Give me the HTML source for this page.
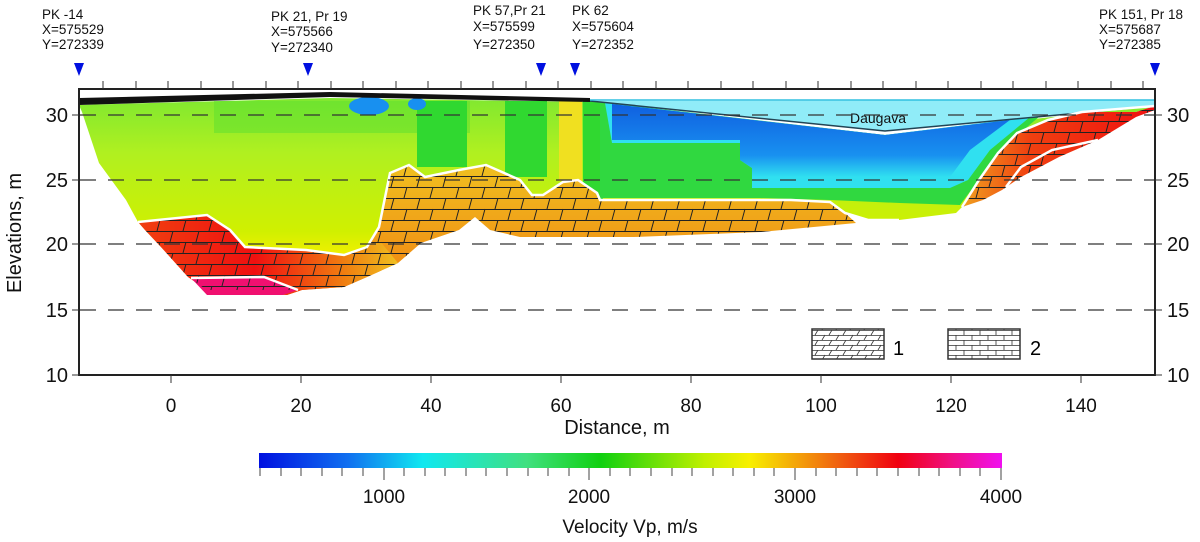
<!DOCTYPE html>
<html><head><meta charset="utf-8"><style>
body{margin:0;background:#fff;}
svg{display:block;font-family:"Liberation Sans",Arial,sans-serif;}
</style></head><body>
<svg width="1200" height="542" viewBox="0 0 1200 542" xmlns="http://www.w3.org/2000/svg">
<defs>
<linearGradient id="cb" x1="0" x2="1" y1="0" y2="0">
<stop offset="0" stop-color="#0010e0"/>
<stop offset="0.12" stop-color="#1070f0"/>
<stop offset="0.22" stop-color="#10e8f0"/>
<stop offset="0.36" stop-color="#40e080"/>
<stop offset="0.46" stop-color="#10d010"/>
<stop offset="0.6" stop-color="#c0f000"/>
<stop offset="0.66" stop-color="#f8f000"/>
<stop offset="0.78" stop-color="#f06010"/>
<stop offset="0.86" stop-color="#f00010"/>
<stop offset="0.93" stop-color="#f01080"/>
<stop offset="1" stop-color="#f010f0"/>
</linearGradient>
<linearGradient id="sed" x1="0" x2="0" y1="0" y2="1">
<stop offset="0" stop-color="#80e830"/>
<stop offset="0.35" stop-color="#b0f020"/>
<stop offset="0.85" stop-color="#d0f000"/>
<stop offset="1" stop-color="#f0f000"/>
</linearGradient>
<linearGradient id="redL" x1="0" x2="1" y1="0" y2="0">
<stop offset="0" stop-color="#f04010"/>
<stop offset="0.45" stop-color="#f01010"/>
<stop offset="0.8" stop-color="#f08010"/>
<stop offset="1" stop-color="#f0c020"/>
</linearGradient>
<linearGradient id="orM" x1="0" x2="0" y1="0" y2="1">
<stop offset="0" stop-color="#f0c020"/>
<stop offset="1" stop-color="#f08010"/>
</linearGradient>
<linearGradient id="redR" x1="0" x2="1" y1="0" y2="0">
<stop offset="0" stop-color="#f0a020"/>
<stop offset="0.35" stop-color="#f04010"/>
<stop offset="1" stop-color="#f01010"/>
</linearGradient>
<linearGradient id="blu" x1="0" x2="0" y1="0" y2="1">
<stop offset="0" stop-color="#1060e0"/>
<stop offset="0.7" stop-color="#1890f0"/>
<stop offset="1" stop-color="#30e0f0"/>
</linearGradient>
<pattern id="brick" width="26" height="22" patternUnits="userSpaceOnUse">
<path d="M0 0.5H26M0 11.5H26M4 0L1 11M17 11L14 22" stroke="#222" stroke-width="1" fill="none"/>
</pattern>
<pattern id="brick2" width="16" height="10" patternUnits="userSpaceOnUse">
<path d="M0 0.5H16M0 5.5H16M4 0V5M12 5V10" stroke="#333" stroke-width="0.8" fill="none"/>
</pattern>
<pattern id="slant" width="14" height="10" patternUnits="userSpaceOnUse">
<path d="M0 0.5H14M0 5.5H14M6 0L3 5M13 5L10 10" stroke="#333" stroke-width="0.8" fill="none"/>
</pattern>
</defs>

<path d="M79,105 L330,98 L590,102 L885,135 L1155,106 L1136,112 L1082,112 L1048,120 L1017,133 L998,153 L979,180 L962,207 L956,213 L899,220 L868,220 L845,213 L830,202 L791,200 L600,200 L597,193 L578,180 L563,182 L543,195 L532,195 L520,180 L486,165 L459,170 L425,177 L409,165 L390,173 L379,227 L367,247 L344,255 L306,250 L245,247 L230,230 L207,215 L138,222 L126,200 L99,163 L82,112 Z" fill="url(#sed)"/>
<rect x="214" y="101" width="256" height="32" fill="#60e030" opacity="0.55"/>
<rect x="417" y="101" width="50" height="66" fill="#30d830"/>
<rect x="505" y="101" width="42" height="76" fill="#30d830"/>
<rect x="559" y="101" width="23" height="80" fill="#f0e020"/>
<rect x="583" y="101" width="20" height="99" fill="#30d830"/>
<ellipse cx="369" cy="106" rx="20" ry="9" fill="#1890f0"/>
<ellipse cx="417" cy="104" rx="9" ry="6" fill="#1890f0"/>
<path d="M600,102 L885,135 L1040,116 L1000,150 L975,185 L960,205 L900,203 L830,200 L760,198 L600,198 Z" fill="#30d840"/>
<path d="M605,103 L885,135 L1030,117 L990,150 L968,180 L950,188 L752,188 L752,168 L740,160 L740,143 L612,143 Z" fill="#30e0f0"/>
<path d="M612,104 L885,135 L1010,120 L970,150 L950,177 L752,177 L752,168 L740,160 L740,140 L612,140 Z" fill="url(#blu)"/>
<path d="M590,101 L1155,100 L1155,106 L885,131 Z" fill="#90ecf8"/>
<path d="M590,101 L885,131 L1155,106" stroke="#245" stroke-width="1.5" fill="none"/>
<line x1="590" y1="100" x2="1155" y2="100" stroke="#30c0e0" stroke-width="1.5"/>
<text x="878" y="123" font-size="14" text-anchor="middle" fill="#111">Daugava</text>
<path d="M79,98 L330,92 L590,98 L590,102 L330,97 L79,105 Z" fill="#111"/>

<path d="M138,222 L207,215 L230,230 L245,247 L306,250 L344,255 L367,247 L379,227 L390,173 L409,165 L425,177 L459,170 L486,165 L520,180 L532,195 L543,195 L563,182 L578,180 L597,193 L600,200 L791,200 L830,202 L845,213 L856,223 L761,232 L634,237 L520,237 L490,230 L475,217 L459,230 L421,243 L398,263 L367,277 L344,287 L302,290 L287,295 L207,290 L188,277 L161,247 L145,230 Z" fill="url(#orM)"/>
<path d="M138,222 L207,215 L230,230 L245,247 L306,250 L344,255 L367,247 L379,240 L398,263 L367,277 L344,287 L302,290 L287,295 L207,290 L188,277 L161,247 L145,230 Z" fill="url(#redL)"/>
<path d="M191,278 L264,277 L298,290 L283,295 L207,295 Z" fill="#f01070"/>
<path d="M138,222 L207,215 L230,230 L245,247 L306,250 L344,255 L367,247 L379,227 L390,173 L409,165 L425,177 L459,170 L486,165 L520,180 L532,195 L543,195 L563,182 L578,180 L597,193 L600,200 L791,200 L830,202 L845,213 L856,223 L761,232 L634,237 L520,237 L490,230 L475,217 L459,230 L421,243 L398,263 L367,277 L344,287 L302,290 L207,290 L188,277 L161,247 L145,230 Z" fill="url(#brick)"/>
<path d="M962,207 L979,180 L998,153 L1017,133 L1048,120 L1082,112 L1136,112 L1155,106 L1155,110 L1136,117 L1098,140 L1059,157 L1021,177 L1002,190 L983,200 Z" fill="url(#redR)"/>
<path d="M962,207 L979,180 L998,153 L1017,133 L1048,120 L1082,112 L1136,112 L1155,106 L1155,110 L1136,117 L1098,140 L1059,157 L1021,177 L1002,190 L983,200 Z" fill="url(#brick)"/>

<g stroke="#fff" stroke-width="2.5" fill="none">
<path d="M138,222 L207,215 L230,230 L245,247 L306,250 L344,255 L367,247 L379,227 L390,173 L409,165 L425,177 L459,170 L486,165 L520,180 L532,195 L543,195 L563,182 L578,180 L597,193 L600,200 L791,200 L830,202 L845,213 L868,220 L899,220"/>
<path d="M962,207 L979,180 L998,153 L1017,133 L1048,120 L1082,112 L1155,106"/>
<path d="M1006,187 L1021,167 L1052,150 L1098,140"/>
<path d="M191,278 L264,277 L298,290"/>
</g>

<g stroke="#333" stroke-width="1.2" stroke-dasharray="16,12">
<line x1="80" y1="115" x2="1155" y2="115"/>
<line x1="80" y1="180" x2="1155" y2="180"/>
<line x1="80" y1="244" x2="1155" y2="244"/>
<line x1="80" y1="310" x2="1155" y2="310"/>
</g>

<rect x="79" y="89" width="1076" height="286" stroke="#222" stroke-width="2" fill="none"/>
<g stroke="#333" stroke-width="1">
<path d="M103,89v-8M136,89v-8M168,89v-8M201,89v-8M233,89v-8M266,89v-8M298,89v-8M331,89v-8M363,89v-8M396,89v-8M428,89v-8M461,89v-8M493,89v-8M526,89v-8M558,89v-8M591,89v-8M623,89v-8M656,89v-8M688,89v-8M721,89v-8M753,89v-8M786,89v-8M818,89v-8M851,89v-8M883,89v-8M916,89v-8M948,89v-8M981,89v-8M1013,89v-8M1046,89v-8M1078,89v-8M1111,89v-8M1143,89v-8"/>
<path d="M171,375v8M301,375v8M431,375v8M561,375v8M691,375v8M821,375v8M951,375v8M1081,375v8"/>
<path d="M72,115h7M72,180h7M72,244h7M72,310h7M72,375h7M1155,115h7M1155,180h7M1155,244h7M1155,310h7M1155,375h7"/>
</g>
<g font-size="20" fill="#111">
<g text-anchor="end">
<text x="68" y="122">30</text><text x="68" y="187">25</text><text x="68" y="251">20</text><text x="68" y="317">15</text><text x="68" y="382">10</text>
</g>
<text x="1167" y="122">30</text><text x="1167" y="187">25</text><text x="1167" y="251">20</text><text x="1167" y="317">15</text><text x="1167" y="382">10</text>
<g text-anchor="middle" font-size="19">
<text x="171" y="412">0</text><text x="301" y="412">20</text><text x="431" y="412">40</text><text x="561" y="412">60</text><text x="691" y="412">80</text><text x="821" y="412">100</text><text x="951" y="412">120</text><text x="1081" y="412">140</text>
</g>
<text x="617" y="434" text-anchor="middle">Distance, m</text>
<text transform="translate(21,233) rotate(-90)" text-anchor="middle">Elevations, m</text>
</g>

<g fill="#0010e0">
<path d="M74,63h10l-5,13z"/><path d="M303,63h10l-5,13z"/><path d="M536,63h10l-5,13z"/><path d="M570,63h10l-5,13z"/><path d="M1150,63h10l-5,13z"/>
</g>
<g font-size="13.5" fill="#111">
<text x="42" y="19">PK -14</text><text x="42" y="34">X=575529</text><text x="42" y="49">Y=272339</text>
<text x="271" y="21">PK 21, Pr 19</text><text x="271" y="36">X=575566</text><text x="271" y="52">Y=272340</text>
<text x="473" y="15">PK 57,Pr 21</text><text x="473" y="31">X=575599</text><text x="473" y="49">Y=272350</text>
<text x="572" y="15">PK 62</text><text x="572" y="31">X=575604</text><text x="572" y="49">Y=272352</text>
<text x="1099" y="19">PK 151, Pr 18</text><text x="1099" y="34">X=575687</text><text x="1099" y="49">Y=272385</text>
</g>

<rect x="812" y="329" width="72" height="30" fill="url(#slant)" stroke="#333" stroke-width="1.5"/>
<text x="893" y="355" font-size="20">1</text>
<rect x="948" y="329" width="72" height="30" fill="url(#brick2)" stroke="#333" stroke-width="1.5"/>
<text x="1030" y="355" font-size="20">2</text>

<rect x="259" y="453" width="743" height="15" fill="url(#cb)"/>
<g stroke="#444" stroke-width="1">
<path d="M260,468v8M281,468v8M301,468v8M322,468v8M342,468v8M363,468v8M384,468v12M404,468v8M425,468v8M445,468v8M466,468v8M486,468v8M507,468v8M528,468v8M548,468v8M569,468v8M589,468v12M610,468v8M630,468v8M651,468v8M672,468v8M692,468v8M713,468v8M733,468v8M754,468v8M774,468v8M795,468v12M816,468v8M836,468v8M857,468v8M877,468v8M898,468v8M919,468v8M939,468v8M960,468v8M980,468v8M1001,468v12"/>
</g>
<g font-size="19" fill="#111" text-anchor="middle">
<text x="384" y="503">1000</text><text x="589" y="503">2000</text><text x="795" y="503">3000</text><text x="1001" y="503">4000</text>
<text x="630" y="533">Velocity Vp, m/s</text>
</g>
</svg>
</body></html>
